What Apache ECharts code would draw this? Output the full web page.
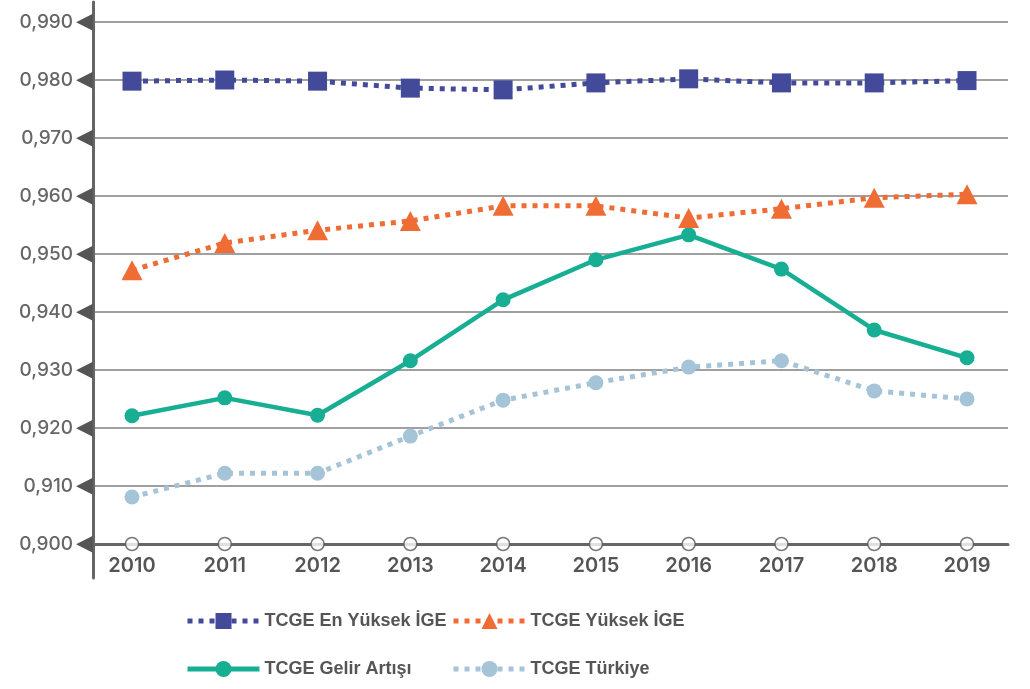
<!DOCTYPE html>
<html>
<head>
<meta charset="utf-8">
<script src="https://cdn.jsdelivr.net/npm/echarts@6/dist/echarts.min.js"></script>
<style>
  html, body { margin: 0; padding: 0; background: #fff; }
  #chart { width: 1030px; height: 689px; }
</style>
</head>
<body>
<div id="chart"></div>
<script>
// veriler
var years = ["2010", "2011", "2012", "2013", "2014", "2015", "2016", "2017", "2018", "2019"];
var enYuksek = [0.9798, 0.9800, 0.9798, 0.9786, 0.9783, 0.9795, 0.9802, 0.9795, 0.9795, 0.9799];
var yuksek = [0.9472, 0.9519, 0.9541, 0.9557, 0.9583, 0.9583, 0.9562, 0.9578, 0.9597, 0.9603];
var gelirArtisi = [0.9221, 0.9252, 0.9222, 0.9316, 0.9421, 0.9490, 0.9533, 0.9474, 0.9369, 0.9321];
var turkiye = [0.9081, 0.9122, 0.9122, 0.9186, 0.9248, 0.9278, 0.9305, 0.9316, 0.9264, 0.9250];
var yTicks = ["0,900", "0,910", "0,920", "0,930", "0,940", "0,950", "0,960", "0,970", "0,980", "0,990"];
var names = ["TCGE En Yüksek İGE", "TCGE Yüksek İGE", "TCGE Gelir Artışı", "TCGE Türkiye"];

var yMin = 0.9, yMax = 0.99, yStep = 0.01;
var dots = [5, 6];

var chart = echarts.init(document.getElementById("chart"));

var legendText = {
  fontFamily: "'Liberation Sans', Arial, sans-serif",
  fontWeight: "bold",
  fontSize: 18,
  color: "#555"
};

var option = {
  animation: false,
  grid: [
    // seriler
    { left: 132, right: 63, top: 22, bottom: 145 },
    // ızgara çizgileri ve eksenler
    { left: 93, right: 22, top: 22, bottom: 145 },
    // uzun dikey eksen çizgisi
    { left: 93, right: 22, top: 2, bottom: 111 }
  ],
  xAxis: [
    {
      gridIndex: 0, type: "category", data: years, boundaryGap: false,
      axisLine: { show: false }, axisTick: { show: false },
      axisLabel: { margin: 12, fontFamily: "Inter, sans-serif", fontWeight: 600, fontSize: 20, color: "#555" }
    },
    {
      gridIndex: 1, type: "value", min: 0, max: 1,
      axisLine: { show: true, onZero: false, lineStyle: { color: "#666", width: 3 } },
      axisTick: { show: false }, axisLabel: { show: false }, splitLine: { show: false }
    },
    {
      gridIndex: 2, type: "value", min: 0, max: 1, show: false
    }
  ],
  yAxis: [
    { gridIndex: 0, type: "value", min: yMin, max: yMax, interval: yStep, show: false },
    {
      gridIndex: 1, type: "value", min: yMin, max: yMax, interval: yStep,
      axisLine: { show: false }, axisTick: { show: false },
      splitLine: { show: true, lineStyle: { color: "#808080", width: 1.5 } },
      axisLabel: {
        margin: 0,
        formatter: function (v) {
          return "{v|" + yTicks[Math.round((v - yMin) / yStep)] + "}{a|◀}";
        },
        rich: {
          v: { fontFamily: "Inter, sans-serif", fontWeight: 500, fontSize: 19, color: "#666" },
          a: { fontFamily: "'DejaVu Sans', sans-serif", fontSize: 22, color: "#555", padding: [0, 0, 0, 3] }
        }
      }
    },
    {
      gridIndex: 2, type: "value", min: 0, max: 1,
      axisLine: { show: true, lineStyle: { color: "#666", width: 3 } },
      axisTick: { show: false }, axisLabel: { show: false }, splitLine: { show: false }
    }
  ],
  legend: [
    {
      orient: "vertical", left: 180, top: 607, itemWidth: 72, itemHeight: 20, itemGap: 30,
      lineStyle: { width: 5 },
      data: [names[0], names[2]], textStyle: legendText
    },
    {
      orient: "vertical", left: 446, top: 607, itemWidth: 72, itemHeight: 20, itemGap: 30,
      lineStyle: { width: 5 },
      data: [names[1], names[3]], textStyle: legendText
    }
  ],
  series: [
    {
      name: names[3], type: "line", data: turkiye, z: 3,
      symbol: "circle", symbolSize: 15, showAllSymbol: true,
      itemStyle: { color: "#a5c4d8" },
      lineStyle: { color: "#a5c4d8", width: 5, type: dots }
    },
    {
      name: names[2], type: "line", data: gelirArtisi, z: 4,
      symbol: "circle", symbolSize: 15, showAllSymbol: true,
      itemStyle: { color: "#17ae93" },
      lineStyle: { color: "#17ae93", width: 4.5 }
    },
    {
      name: names[1], type: "line", data: yuksek, z: 5,
      symbol: "triangle", symbolSize: [21, 20], showAllSymbol: true,
      itemStyle: { color: "#ef6c35" },
      lineStyle: { color: "#ef6c35", width: 5, type: dots }
    },
    {
      name: names[0], type: "line", data: enYuksek, z: 6,
      symbol: "rect", symbolSize: 19, showAllSymbol: true,
      itemStyle: { color: "#434a9a" },
      lineStyle: { color: "#434a9a", width: 5, type: dots }
    },
    {
      // x ekseni üzerindeki boş daireler
      type: "scatter", z: 10, silent: true,
      data: years.map(function () { return yMin; }),
      symbol: "circle", symbolSize: 13,
      itemStyle: { color: "#fff", borderColor: "#555", borderWidth: 1.5 }
    }
  ]
};

chart.setOption(option);
</script>
</body>
</html>
